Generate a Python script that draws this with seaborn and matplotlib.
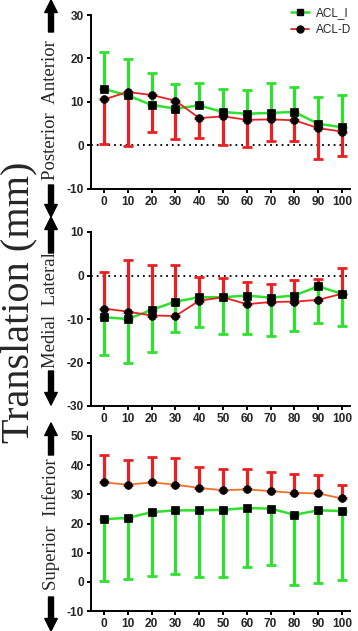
import numpy as np
import pandas as pd
import matplotlib
matplotlib.use("Agg")
import matplotlib.pyplot as plt
from matplotlib.patches import FancyArrowPatch
from matplotlib.lines import Line2D
import seaborn as sns

# ---------------- data ----------------
flexion = [0, 10, 20, 30, 40, 50, 60, 70, 80, 90, 100]
xtick_labels = [str(v) for v in flexion]

# Anterior/Posterior
ap_acl_i_mean = [13.0, 11.5, 9.3, 8.5, 9.2, 7.7, 7.3, 7.5, 7.7, 5.0, 4.2]
ap_acl_i_sd   = [8.6, 8.4, 7.4, 5.6, 5.2, 5.2, 5.5, 6.9, 5.7, 6.2, 7.3]
ap_acl_d_mean = [10.6, 12.3, 11.6, 10.3, 6.3, 6.7, 5.9, 6.0, 5.8, 4.0, 3.2]
ap_acl_d_sd   = [10.3, 12.4, 8.6, 8.8, 4.6, 6.6, 6.2, 4.9, 4.7, 7.0, 5.6]

# Medial/Lateral
ml_acl_i_mean = [-9.6, -10.0, -7.9, -6.0, -5.0, -5.0, -4.6, -5.1, -4.6, -2.5, -4.2]
ml_acl_i_sd   = [8.6, 10.0, 9.8, 7.0, 6.8, 8.5, 8.9, 8.8, 8.2, 8.4, 7.3]
ml_acl_d_mean = [-7.6, -8.3, -9.2, -9.3, -5.8, -5.0, -6.6, -6.1, -6.0, -5.6, -4.2]
ml_acl_d_sd   = [8.4, 11.9, 11.5, 11.7, 5.5, 4.5, 5.0, 4.2, 5.0, 4.8, 6.0]

# Superior/Inferior
si_acl_i_mean = [21.5, 21.9, 23.9, 24.5, 24.5, 24.7, 25.3, 25.1, 23.0, 24.5, 24.3]
si_acl_i_sd   = [21.3, 20.9, 21.8, 21.8, 22.7, 23.0, 20.2, 19.3, 24.1, 24.9, 23.6]
si_acl_d_mean = [34.1, 33.3, 34.1, 33.3, 32.2, 31.4, 31.7, 31.1, 30.5, 30.3, 28.6]
si_acl_d_sd   = [9.4, 8.5, 8.8, 9.3, 7.3, 7.2, 7.1, 6.7, 6.4, 6.4, 4.6]

series_names = ["ACL_I", "ACL-D"]
direction_labels = ["Posterior  Anterior", "Medial  Lateral", "Superior  Inferior"]
y_label = "Translation (mm)"
ylims = [(-10, 30), (-30, 10), (-10, 50)]
yticks = [[-10, 0, 10, 20, 30], [-30, -20, -10, 0, 10], [-10, 0, 10, 20, 30, 40, 50]]

# ---------------- style ----------------
sns.set_style("ticks")
plt.rcParams["font.family"] = ["Liberation Sans", "DejaVu Sans"]
plt.rcParams["axes.unicode_minus"] = False

GREEN = "#2fe02f"
RED = "#e82222"
ORANGE = "#f0702a"

W, H = 358, 631
fig = plt.figure(figsize=(W / 100, H / 100), dpi=100)

def fx(px):
    return px / W

def fy(py):
    return 1 - py / H

left_px, right_px = 91, 350
panels_px = [(15, 189), (232, 406), (436, 611)]

panels = [
    (ap_acl_i_mean, ap_acl_i_sd, ap_acl_d_mean, ap_acl_d_sd, "up", RED),
    (ml_acl_i_mean, ml_acl_i_sd, ml_acl_d_mean, ml_acl_d_sd, "down", RED),
    (si_acl_i_mean, si_acl_i_sd, si_acl_d_mean, si_acl_d_sd, "down", ORANGE),
]

axes = []
for i, (im, isd, dm, dsd, idir, dline) in enumerate(panels):
    top, bot = panels_px[i]
    ax = fig.add_axes([fx(left_px), fy(bot), fx(right_px - left_px), fy(top) - fy(bot)])
    axes.append(ax)
    x = np.array(flexion)
    im, isd, dm, dsd = map(np.array, (im, isd, dm, dsd))
    z = np.zeros_like(isd)
    if idir == "up":
        yerr_i = [z, isd]
        yerr_d = [dsd, z]
    else:
        yerr_i = [isd, z]
        yerr_d = [z, dsd]

    if i < 2:
        ax.axhline(0, color="black", ls=(0, (1, 2.2)), lw=1.3, zorder=1)

    ax.errorbar(x, dm, yerr=yerr_d, fmt="none", ecolor=RED, elinewidth=2.3,
                capsize=3.4, capthick=2.0, zorder=2)
    ax.errorbar(x, im, yerr=yerr_i, fmt="none", ecolor=GREEN, elinewidth=2.3,
                capsize=3.4, capthick=2.0, zorder=2)

    df_i = pd.DataFrame({"flexion": x, "value": im})
    df_d = pd.DataFrame({"flexion": x, "value": dm})
    sns.lineplot(data=df_i, x="flexion", y="value", ax=ax, color=GREEN, lw=1.8,
                 marker="s", markersize=5.6, mfc="black", mec="black", mew=0.5,
                 zorder=4, label=series_names[0])
    sns.lineplot(data=df_d, x="flexion", y="value", ax=ax, color=dline, lw=1.3,
                 marker="o", markersize=5.6, mfc="black", mec="black", mew=0.5,
                 zorder=4, label=series_names[1])
    if ax.get_legend() is not None:
        ax.get_legend().remove()

    ax.set_xlim(-5.5, 103.4)
    ax.set_ylim(*ylims[i])
    ax.set_xticks(flexion)
    ax.set_xticklabels(xtick_labels)
    ax.set_yticks(yticks[i])
    ax.set_xlabel("")
    ax.set_ylabel("")
    for s in ["top", "right"]:
        ax.spines[s].set_visible(False)
    for s in ["left", "bottom"]:
        ax.spines[s].set_linewidth(1.4)
        ax.spines[s].set_color("black")
    ax.tick_params(axis="both", length=3, width=1.4, color="black", pad=2,
                   labelsize=8.6)
    for lab in ax.get_xticklabels() + ax.get_yticklabels():
        lab.set_fontweight("bold")

# legend
handles = [
    Line2D([0], [0], color=GREEN, lw=1.8, marker="s", markersize=5, mfc="black", mec="black"),
    Line2D([0], [0], color=RED, lw=1.3, marker="o", markersize=5, mfc="black", mec="black"),
]
fig.legend(handles, series_names, loc="upper right", bbox_to_anchor=(fx(356), fy(2)),
           frameon=False, fontsize=8.5, handlelength=1.5, handletextpad=0.6,
           labelspacing=0.45, borderaxespad=0)

# big y label
fig.text(fx(19), fy(302), y_label, rotation=90, ha="center", va="center",
         family=["Liberation Serif", "DejaVu Serif"], fontsize=29)

# direction labels and arrows
arrow_x = fx(51)
label_spans = [(35, 185), (253, 367), (457, 592)]
arrow_pairs = [((32, 0), (185, 217)), ((253, 217), (371, 405)), ((455, 423), (597, 631))]
for i in range(3):
    t0, t1 = label_spans[i]
    fig.text(arrow_x, fy((t0 + t1) / 2), direction_labels[i], rotation=90,
             ha="center", va="center", family=["Liberation Serif", "DejaVu Serif"],
             fontsize=13.5)
    (ua, ub), (da, db) = arrow_pairs[i]
    for a, b in [(ua, ub), (da, db)]:
        arr = FancyArrowPatch((arrow_x, fy(a)), (arrow_x, fy(b)),
                              transform=fig.transFigure,
                              arrowstyle="simple,head_width=0.9,head_length=0.9,tail_width=0.36",
                              mutation_scale=10, color="black", shrinkA=0, shrinkB=0)
        fig.add_artist(arr)

fig.savefig("out.png", dpi=100)
